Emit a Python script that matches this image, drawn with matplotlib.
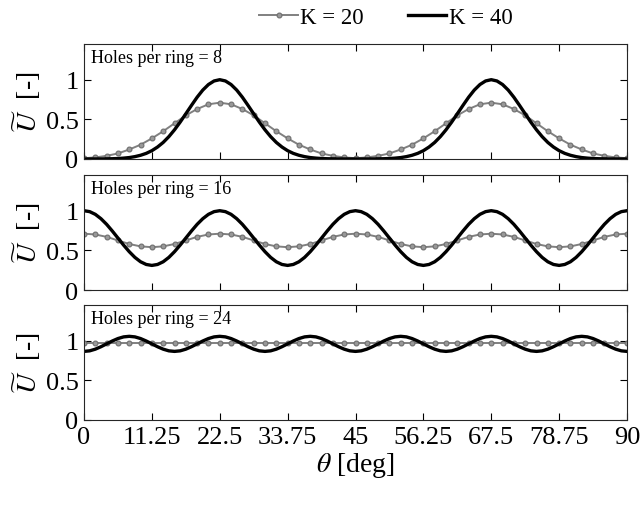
import matplotlib
matplotlib.use("Agg")
import matplotlib.pyplot as plt
import numpy as np

plt.rcParams['font.family'] = ['Liberation Serif', 'DejaVu Serif']
plt.rcParams['mathtext.fontset'] = 'stix'

# angle grids (deg): markers every 1.875 deg, K = 40 curve every 0.9375 deg
theta = np.arange(49) * 1.875
theta_fine = np.arange(97) * 0.9375

# Holes per ring = 8
k20_h8 = [0.01, 0.02, 0.04, 0.07, 0.12, 0.18, 0.26, 0.35, 0.45, 0.55, 0.63, 0.69, 0.71,
          0.69, 0.63, 0.55, 0.45, 0.35, 0.26, 0.18, 0.12, 0.07, 0.04, 0.02, 0.01,
          0.02, 0.04, 0.07, 0.12, 0.18, 0.26, 0.35, 0.45, 0.55, 0.63, 0.69, 0.71,
          0.69, 0.63, 0.55, 0.45, 0.35, 0.26, 0.18, 0.12, 0.07, 0.04, 0.02, 0.01]
k40_h8 = [0, 0, 0.0005, 0.001, 0.002, 0.0035, 0.006, 0.011, 0.018, 0.030, 0.047, 0.071,
          0.105, 0.151, 0.209, 0.282, 0.368, 0.465, 0.570, 0.676, 0.779, 0.869, 0.939, 0.984,
          1.0,
          0.984, 0.939, 0.869, 0.779, 0.676, 0.570, 0.465, 0.368, 0.282, 0.209, 0.151, 0.105,
          0.071, 0.047, 0.030, 0.018, 0.011, 0.006, 0.0035, 0.002, 0.001, 0.0005, 0, 0,
          0, 0.0005, 0.001, 0.002, 0.0035, 0.006, 0.011, 0.018, 0.030, 0.047, 0.071, 0.105,
          0.151, 0.209, 0.282, 0.368, 0.465, 0.570, 0.676, 0.779, 0.869, 0.939, 0.984, 1.0,
          0.984, 0.939, 0.869, 0.779, 0.676, 0.570, 0.465, 0.368, 0.282, 0.209, 0.151, 0.105,
          0.071, 0.047, 0.030, 0.018, 0.011, 0.006, 0.0035, 0.002, 0.001, 0.0005, 0, 0]

# Holes per ring = 16
k20_h16 = [0.71, 0.70, 0.67, 0.625, 0.58, 0.55, 0.54, 0.55, 0.58, 0.625, 0.67, 0.70,
           0.71, 0.70, 0.67, 0.625, 0.58, 0.55, 0.54, 0.55, 0.58, 0.625, 0.67, 0.70,
           0.71, 0.70, 0.67, 0.625, 0.58, 0.55, 0.54, 0.55, 0.58, 0.625, 0.67, 0.70,
           0.71, 0.70, 0.67, 0.625, 0.58, 0.55, 0.54, 0.55, 0.58, 0.625, 0.67, 0.70, 0.71]
k40_h16 = [1.0, 0.988, 0.954, 0.899, 0.828, 0.744, 0.655, 0.566, 0.483, 0.411, 0.356, 0.322,
           0.31, 0.322, 0.356, 0.411, 0.483, 0.566, 0.655, 0.744, 0.828, 0.899, 0.954, 0.988,
           1.0, 0.988, 0.954, 0.899, 0.828, 0.744, 0.655, 0.566, 0.483, 0.411, 0.356, 0.322,
           0.31, 0.322, 0.356, 0.411, 0.483, 0.566, 0.655, 0.744, 0.828, 0.899, 0.954, 0.988,
           1.0, 0.988, 0.954, 0.899, 0.828, 0.744, 0.655, 0.566, 0.483, 0.411, 0.356, 0.322,
           0.31, 0.322, 0.356, 0.411, 0.483, 0.566, 0.655, 0.744, 0.828, 0.899, 0.954, 0.988,
           1.0, 0.988, 0.954, 0.899, 0.828, 0.744, 0.655, 0.566, 0.483, 0.411, 0.356, 0.322,
           0.31, 0.322, 0.356, 0.411, 0.483, 0.566, 0.655, 0.744, 0.828, 0.899, 0.954, 0.988,
           1.0]

# Holes per ring = 24
k20_h24 = [0.97] * 49
k40_h24 = [0.865, 0.872, 0.893, 0.924, 0.96, 0.996, 1.027, 1.048,
           1.055, 1.048, 1.027, 0.996, 0.96, 0.924, 0.893, 0.872,
           0.865, 0.872, 0.893, 0.924, 0.96, 0.996, 1.027, 1.048,
           1.055, 1.048, 1.027, 0.996, 0.96, 0.924, 0.893, 0.872,
           0.865, 0.872, 0.893, 0.924, 0.96, 0.996, 1.027, 1.048,
           1.055, 1.048, 1.027, 0.996, 0.96, 0.924, 0.893, 0.872,
           0.865, 0.872, 0.893, 0.924, 0.96, 0.996, 1.027, 1.048,
           1.055, 1.048, 1.027, 0.996, 0.96, 0.924, 0.893, 0.872,
           0.865, 0.872, 0.893, 0.924, 0.96, 0.996, 1.027, 1.048,
           1.055, 1.048, 1.027, 0.996, 0.96, 0.924, 0.893, 0.872,
           0.865, 0.872, 0.893, 0.924, 0.96, 0.996, 1.027, 1.048,
           1.055, 1.048, 1.027, 0.996, 0.96, 0.924, 0.893, 0.872,
           0.865]

holes = [8, 16, 24]
k20 = [k20_h8, k20_h16, k20_h24]
k40 = [k40_h8, k40_h16, k40_h24]

xticks = [0, 11.25, 22.5, 33.75, 45, 56.25, 67.5, 78.75, 90]
xticklabels = ['0', '11.25', '22.5', '33.75', '45', '56.25', '67.5', '78.75', '90']

fig = plt.figure(figsize=(6.43, 5.06), dpi=100)
W, H = 643.0, 506.0
left, right = 84 / W, 627 / W
tops = [45, 176, 306]
ph = 115

for i in range(3):
    bottom = 1 - (tops[i] + ph) / H
    ax = fig.add_axes([left, bottom, right - left, ph / H])
    l1, = ax.plot(theta, k20[i], color='#808080', lw=1.4, marker='o', ms=3.5,
                  mfc='#999999', mec='#6e6e6e', mew=0.8, label='K = 20')
    l2, = ax.plot(theta_fine, k40[i], color='black', lw=2.4, label='K = 40')
    ax.set_xlim(0, 90)
    ax.set_ylim(0, 1.45)
    ax.set_yticks([0, 0.5, 1])
    ax.set_yticklabels(['0', '0.5', '1'])
    ax.set_xticks(xticks)
    if i == 2:
        ax.set_xticklabels(xticklabels)
        ax.set_xlabel(r'$\theta$ [deg]', fontsize=20, labelpad=2)
    else:
        ax.set_xticklabels([])
    ax.tick_params(direction='in', top=True, right=True, length=5, width=0.8,
                   labelsize=19, pad=4)
    for s in ax.spines.values():
        s.set_linewidth(0.8)
        s.set_color('#262626')
    ax.set_ylabel(r'$\widetilde{U}$  [-]', fontsize=20, labelpad=2)
    ax.text(0.012, 0.96, f'Holes per ring = {holes[i]}', transform=ax.transAxes,
            fontsize=13, va='top', ha='left')

fig.legend(handles=[l1, l2], loc='center', bbox_to_anchor=(0.6, 1 - 18 / H), ncol=2,
           frameon=False, fontsize=16.5, handlelength=1.7, handletextpad=0.1,
           columnspacing=1.9)

fig.savefig('out.png', dpi=100)
